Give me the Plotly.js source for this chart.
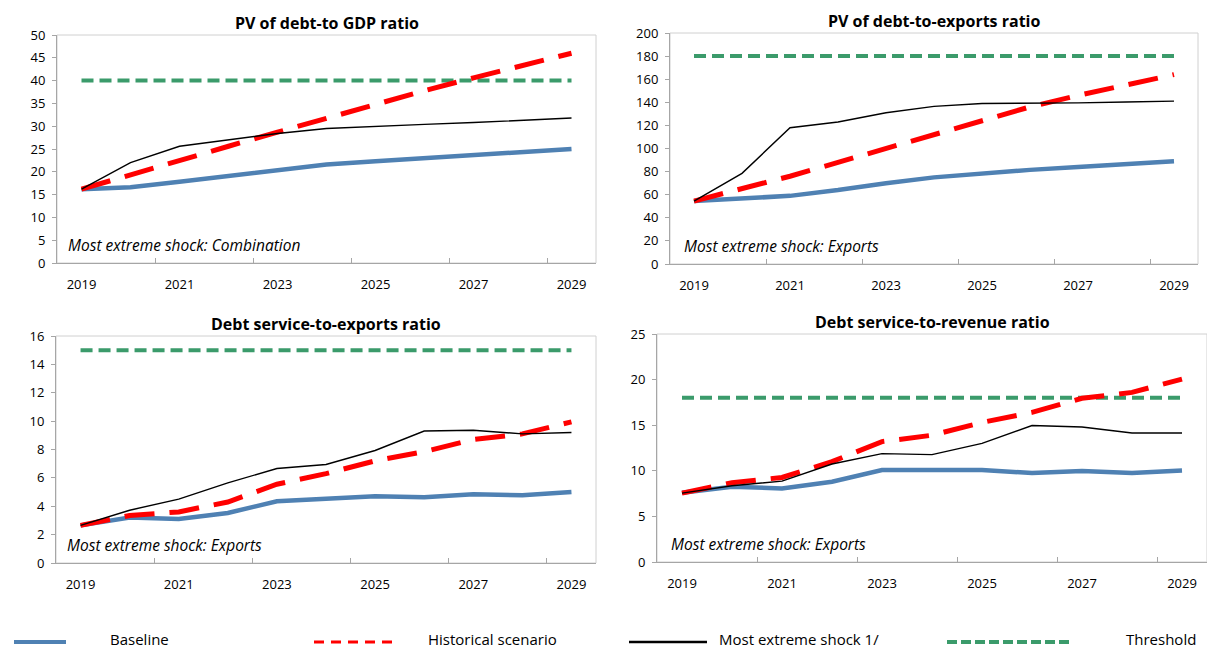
<!DOCTYPE html>
<html>
<head>
<meta charset="utf-8">
<script src="https://cdn.plot.ly/plotly-3.0.1.min.js"></script>
<style>
  html, body { margin: 0; padding: 0; background: #fff; }
  #chart { width: 1207px; height: 649px; }
</style>
</head>
<body>
<div id="chart"></div>
<script>
// ---- Data ----
const years = [2019, 2020, 2021, 2022, 2023, 2024, 2025, 2026, 2027, 2028, 2029];
const tickYears = [2019, 2021, 2023, 2025, 2027, 2029];
const tickLabels = ['2019', '2021', '2023', '2025', '2027', '2029'];

const panelTitles = [
  'PV of debt-to GDP ratio',
  'PV of debt-to-exports ratio',
  'Debt service-to-exports ratio',
  'Debt service-to-revenue ratio'
];
const panelNotes = [
  'Most extreme shock: Combination',
  'Most extreme shock: Exports',
  'Most extreme shock: Exports',
  'Most extreme shock: Exports'
];
const seriesNames = ['Baseline', 'Historical scenario', 'Most extreme shock 1/', 'Threshold'];

// Panel 1: PV of debt-to-GDP
const p1Baseline   = [16.2, 16.6, 17.8, 19.0, 20.4, 21.6, 22.3, 23.0, 23.7, 24.4, 25.0];
const p1Historical = [16.2, 19.4, 22.5, 25.6, 28.7, 31.8, 34.8, 37.8, 40.6, 43.3, 46.0];
const p1Shock      = [16.2, 22.0, 25.6, 27.0, 28.4, 29.5, 30.0, 30.4, 30.8, 31.3, 31.8];
const p1Threshold  = [40, 40, 40, 40, 40, 40, 40, 40, 40, 40, 40];

// Panel 2: PV of debt-to-exports
const p2Baseline   = [54.5, 57, 59, 64, 70, 75, 78.5, 81.5, 84, 86.5, 89];
const p2Historical = [54.5, 65, 76, 88, 100, 113, 125, 136, 146, 155, 164];
const p2Shock      = [54.5, 78.5, 118, 123, 131, 136.5, 139, 139.2, 139.5, 140.3, 141];
const p2Threshold  = [180, 180, 180, 180, 180, 180, 180, 180, 180, 180, 180];

// Panel 3: Debt service-to-exports
const p3Baseline   = [2.65, 3.2, 3.1, 3.53, 4.35, 4.56, 4.7, 4.63, 4.85, 4.78, 5.0];
const p3Historical = [2.65, 3.35, 3.6, 4.3, 5.55, 6.3, 7.2, 7.85, 8.7, 9.1, 9.95];
const p3Shock      = [2.65, 3.72, 4.5, 5.65, 6.66, 6.94, 7.93, 9.3, 9.36, 9.1, 9.2];
const p3Threshold  = [15, 15, 15, 15, 15, 15, 15, 15, 15, 15, 15];

// Panel 4: Debt service-to-revenue
const p4Baseline   = [7.6, 8.25, 8.06, 8.8, 10.08, 10.1, 10.08, 9.75, 9.97, 9.75, 10.04];
const p4Historical = [7.55, 8.7, 9.27, 11.0, 13.2, 13.9, 15.3, 16.4, 17.95, 18.6, 20.05];
const p4Shock      = [7.55, 8.36, 8.87, 10.74, 11.88, 11.77, 13.0, 14.96, 14.8, 14.15, 14.15];
const p4Threshold  = [18, 18, 18, 18, 18, 18, 18, 18, 18, 18, 18];

const yMax  = [50, 200, 16, 25];
const yStep = [5, 20, 2, 5];

// ---- Styles ----
const FONT = '"Open Sans", "Noto Sans", sans-serif';
const C_BLUE = '#4f81b3';
const C_RED = '#ff0000';
const C_BLACK = '#000000';
const C_GREEN = '#3b9b6b';

const panels = [
  [p1Baseline, p1Historical, p1Shock, p1Threshold],
  [p2Baseline, p2Historical, p2Shock, p2Threshold],
  [p3Baseline, p3Historical, p3Shock, p3Threshold],
  [p4Baseline, p4Historical, p4Shock, p4Threshold]
];

// subplot placement (paper fractions)
const W = 1207, H = 649;
const boxes = [
  {l: 57, r: 596, t: 35, b: 263},
  {l: 670, r: 1198, t: 33, b: 264},
  {l: 56, r: 596, t: 336, b: 563},
  {l: 657, r: 1207, t: 334, b: 562}
];

const traces = [];
panels.forEach((p, i) => {
  const xa = i === 0 ? 'x' : 'x' + (i + 1);
  const ya = i === 0 ? 'y' : 'y' + (i + 1);
  // draw order: threshold, baseline, historical, shock
  traces.push({x: years, y: p[3], xaxis: xa, yaxis: ya, type: 'scatter', mode: 'lines',
    name: seriesNames[3], showlegend: false, hoverinfo: 'skip',
    line: {color: C_GREEN, width: 4, dash: '12px,6px'}});
  traces.push({x: years, y: p[0], xaxis: xa, yaxis: ya, type: 'scatter', mode: 'lines',
    name: seriesNames[0], showlegend: false,
    line: {color: C_BLUE, width: 4.5}});
  traces.push({x: years, y: p[1], xaxis: xa, yaxis: ya, type: 'scatter', mode: 'lines',
    name: seriesNames[1], showlegend: false,
    line: {color: C_RED, width: 5, dash: '30px,15px'}});
  traces.push({x: years, y: p[2], xaxis: xa, yaxis: ya, type: 'scatter', mode: 'lines',
    name: seriesNames[2], showlegend: false,
    line: {color: C_BLACK, width: 1.4}});
});

const layout = {
  width: W, height: H,
  margin: {l: 0, r: 0, t: 0, b: 0},
  paper_bgcolor: '#ffffff',
  plot_bgcolor: '#ffffff',
  font: {family: FONT, color: '#000000', size: 12},
  showlegend: false,
  shapes: [],
  annotations: []
};

boxes.forEach((bx, i) => {
  const sfx = i === 0 ? '' : String(i + 1);
  const xd = [bx.l / W, Math.min(1, bx.r / W)];
  const yd = [(H - bx.b) / H, (H - bx.t) / H];
  layout['xaxis' + sfx] = {
    domain: xd, anchor: 'y' + sfx,
    range: [2018.5, 2029.5],
    tickmode: 'array', tickvals: tickYears, ticktext: tickLabels,
    ticks: '', showgrid: false, zeroline: false,
    showline: true, linecolor: '#a6a6a6', linewidth: 1,
    tickfont: {family: FONT, size: 13, color: '#000'},
    ticklabelstandoff: 9,
    minor: {tickmode: 'array', tickvals: [2020.5, 2022.5, 2024.5, 2026.5, 2028.5],
            ticks: 'inside', ticklen: 5, tickcolor: '#a6a6a6', tickwidth: 1, showgrid: false},
    fixedrange: true
  };
  layout['yaxis' + sfx] = {
    domain: yd, anchor: 'x' + sfx,
    range: [0, yMax[i]], dtick: yStep[i], tick0: 0,
    ticks: 'outside', ticklen: 4, tickcolor: '#a6a6a6',
    showgrid: false, zeroline: false,
    showline: true, linecolor: '#a6a6a6', linewidth: 1,
    tickfont: {family: FONT, size: 13, color: '#000'},
    ticklabelstandoff: 4,
    fixedrange: true
  };
  // light frame around the plot area
  layout.shapes.push({type: 'rect', xref: 'x' + sfx + ' domain', yref: 'y' + sfx + ' domain',
    x0: 0, x1: 1, y0: 0, y1: 1, line: {color: '#d0d0d0', width: 1}, layer: 'below'});
  // panel title
  layout.annotations.push({text: '<b>' + panelTitles[i] + '</b>', xref: 'x' + sfx + ' domain', yref: 'paper',
    x: 0.5, y: (H - (bx.t - 12)) / H, xanchor: 'center', yanchor: 'middle', showarrow: false,
    font: {family: FONT, size: 16, color: '#000'}});
  // note
  layout.annotations.push({text: '<i>' + panelNotes[i] + '</i>', xref: 'paper', yref: 'paper',
    x: (bx.l + (i === 1 ? 12 : (i === 3 ? 12 : 9))) / W, y: (H - (bx.b - 18)) / H,
    xanchor: 'left', yanchor: 'middle', showarrow: false,
    font: {family: FONT, size: 15.5, color: '#000'}});
});

// legend (bottom row)
const legY = (H - 642) / H;
const legendItems = [
  {x0: 14, x1: 66, color: C_BLUE, width: 4, dash: 'solid', tx: 108},
  {x0: 314, x1: 397, color: C_RED, width: 3, dash: '10px,7px', tx: 426},
  {x0: 629, x1: 707, color: C_BLACK, width: 2.5, dash: 'solid', tx: 717},
  {x0: 947, x1: 1073, color: C_GREEN, width: 4, dash: '10px,4px', tx: 1124}
];
legendItems.forEach((it, k) => {
  layout.shapes.push({type: 'line', xref: 'paper', yref: 'paper',
    x0: it.x0 / W, x1: it.x1 / W, y0: legY, y1: legY,
    line: {color: it.color, width: it.width, dash: it.dash}});
  layout.annotations.push({text: seriesNames[k], xref: 'paper', yref: 'paper',
    x: it.tx / W, y: (H - 639) / H, xanchor: 'left', yanchor: 'middle', showarrow: false,
    font: {family: FONT, size: 15, color: '#000'}});
});

Plotly.newPlot('chart', traces, layout, {displayModeBar: false, staticPlot: true});
</script>
</body>
</html>
